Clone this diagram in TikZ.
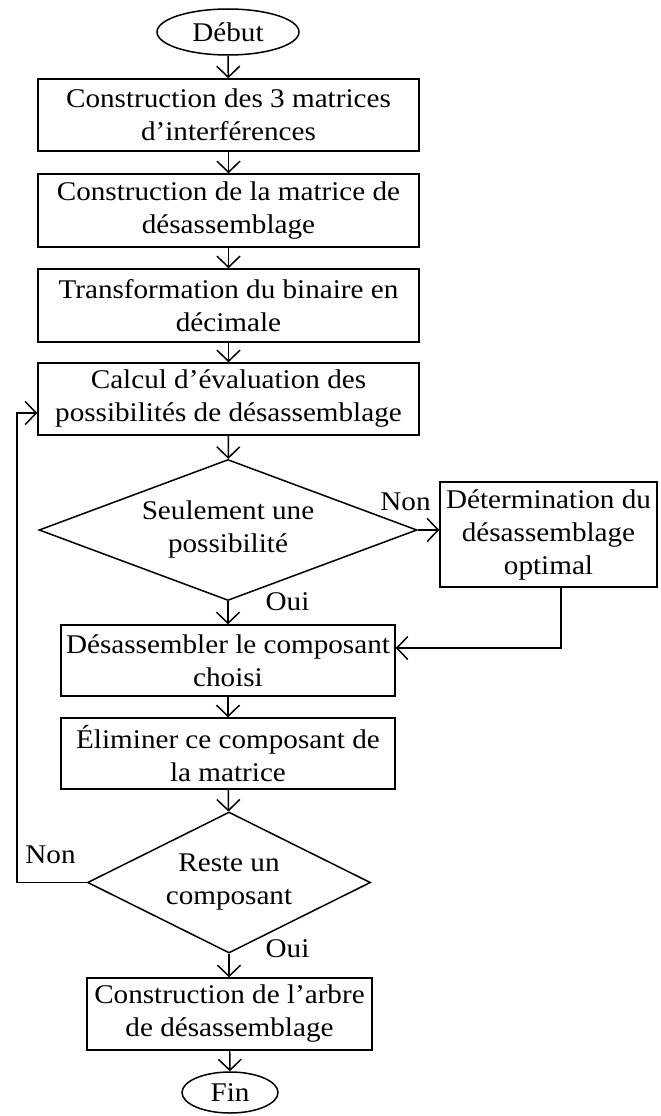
\documentclass[tikz,border=0pt]{standalone}
\usepackage{fontspec}
\setmainfont{Liberation Serif}[FakeStretch=1.08]
\usetikzlibrary{shapes.geometric,arrows.meta}

\begin{document}
\begin{tikzpicture}[x=1pt,y=-1pt,
  every node/.style={font=\fontsize{27}{33}\selectfont},
  flow/.style={draw, line width=1.5pt, rectangle, align=center, inner sep=0pt},
  term/.style={draw, line width=1.5pt, ellipse, inner sep=0pt},
  decision/.style={draw, line width=1.5pt, diamond, align=center, inner sep=0pt},
  link/.style={line width=1.5pt, -{Straight Barb[length=11pt,width=23pt]}},
  tag/.style={anchor=base, inner sep=0pt}]
\useasboundingbox (0,0) rectangle (661,1116);

% main column
\node[term, minimum width=142pt, minimum height=46pt] (start) at (228,32) {Début};
\node[flow, minimum width=381pt, minimum height=72pt] (b1) at (228.5,115)
  {Construction des 3 matrices\\d’interférences};
\node[flow, minimum width=381pt, minimum height=73pt] (b2) at (228.5,210.5)
  {Construction de la matrice de\\désassemblage};
\node[flow, minimum width=381pt, minimum height=73pt] (b3) at (228.5,305.5)
  {Transformation du binaire en\\décimale};
\node[flow, minimum width=381pt, minimum height=72pt] (b4) at (228.5,399)
  {Calcul d’évaluation des\\possibilités de désassemblage};
\node[decision, shape aspect=2.68, minimum width=378pt, minimum height=141pt] (d1) at (228,530)
  {Seulement une\\possibilité};
\node[flow, minimum width=217pt, minimum height=105pt] (det) at (548.5,534.5)
  {Détermination du\\désassemblage\\optimal};
\node[flow, minimum width=334pt, minimum height=71pt] (b5) at (228,660.5)
  {Désassembler le composant\\choisi};
\node[flow, minimum width=334pt, minimum height=71pt] (b6) at (228,753.5)
  {Éliminer ce composant de\\la matrice};
\node[decision, shape aspect=2.0, minimum width=283pt, minimum height=141pt] (d2) at (229,882.5)
  {Reste un\\composant};
\node[flow, minimum width=285pt, minimum height=72pt] (b7) at (229.5,1014)
  {Construction de l’arbre\\de désassemblage};
\node[term, minimum width=96pt, minimum height=41pt] (stop) at (230,1092.5) {Fin};

% branch labels
\node[tag] (non1) at (405.5,510) {Non};
\node[tag] (oui1) at (287.5,610) {Oui};
\node[tag] (non2) at (50.5,863) {Non};
\node[tag] (oui2) at (287.5,957) {Oui};

% straight connectors
\draw[link] (start) -- (b1);
\draw[link] (b1) -- (b2);
\draw[link] (b2) -- (b3);
\draw[link] (b3) -- (b4);
\draw[link] (b4) -- (d1);
\draw[link] (d1.south) -- (d1.south |- b5.north);
\draw[link] (b5) -- (b6);
\draw[link] (b6) -- (d2);
\draw[link] (d2.south) -- (d2.south |- b7.north);
\draw[link] (b7) -- (stop);

% side branch and loop back
\draw[link] (d1.east) -- (d1.east -| det.west);
\coordinate (detout) at ([xshift=12.5pt]det.south);
\coordinate (b5in) at ([yshift=12.5pt]b5.east);
\draw[link] (detout) |- (b5in);
\coordinate (loop) at (17,413);
\draw[link] (d2.west) -| (loop) -- (loop -| b4.west);
\end{tikzpicture}
\end{document}
